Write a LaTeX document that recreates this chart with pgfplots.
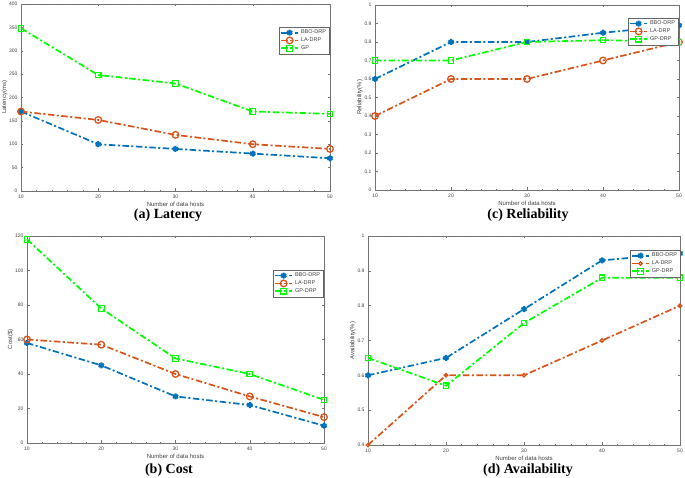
\documentclass[border=0pt]{standalone}
\usepackage{fontspec}
\setmainfont{Liberation Sans}
\newfontfamily\capfont{Liberation Serif}
\usepackage{pgfplots}
\pgfplotsset{compat=1.18}

\definecolor{mblue}{RGB}{0,114,189}
\definecolor{morange}{RGB}{217,83,25}
\definecolor{mgreen}{RGB}{0,255,0}

\pgfplotsset{
  mystyle/.style={
    scale only axis,
    clip=false,
    xmin=10, xmax=50,
    xtick={10,20,30,40,50},
    minor x tick num=4,
    tick align=inside,
    major tick length=2.5pt,
    minor tick length=1.2pt,
    axis line style={draw=black!55, line width=0.5pt},
    every tick/.style={black!55, line width=0.4pt},
    ticklabel style={font=\fontsize{5}{6}\selectfont, text=black!75},
    /pgf/number format/assume math mode=true,
    label style={font=\fontsize{6}{7}\selectfont, text=black!75},
    xlabel={Number of data hosts},
    xlabel style={yshift=3pt},
    ylabel style={yshift=-5pt},
    legend style={font=\fontsize{5.5}{6.5}\selectfont, draw=black!60, line width=0.4pt, inner sep=0.8pt, row sep=-1.5pt, text=black!75},
    legend cell align=left,
    every axis plot/.append style={line width=1.7pt, dash pattern=on 6.5pt off 2.5pt on 2pt off 2.5pt},
  },
  bbo/.style={mblue, mark=asterisk, mark size=3pt, mark options={solid, line width=2pt}},
  la/.style={morange, mark=o, mark size=3.3pt, mark options={solid, line width=1.3pt}},
  gp/.style={mgreen, mark=square, mark size=2.8pt, mark options={solid, line width=1.1pt}},
}

\begin{document}
\begin{tikzpicture}
\path[use as bounding box] (0,0) rectangle (685pt,478pt);

% (a) Latency
\begin{axis}[mystyle, at={(21pt,287pt)}, anchor=south west, width=309pt, height=187pt,
  ymin=0, ymax=400, ytick={0,50,100,150,200,250,300,350,400},
  ylabel={Latency(ms)},
  legend style={at={(0.997,0.877)}, anchor=north east}]
\addplot[bbo] coordinates {(10,170) (20,100) (30,90) (40,80) (50,70)};
\addplot[la] coordinates {(10,170) (20,152) (30,120) (40,100) (50,90)};
\addplot[gp] coordinates {(10,348) (20,248) (30,230) (40,170) (50,165)};
\legend{BBO-DRP, LA-DRP, GP}
\end{axis}

% (c) Reliability
\begin{axis}[mystyle, at={(375pt,288pt)}, anchor=south west, width=304pt, height=185pt,
  ymin=0, ymax=1, ytick={0,0.1,0.2,0.3,0.4,0.5,0.6,0.7,0.8,0.9,1},
  ylabel={Reliability(\%)},
  legend style={at={(0.997,0.93)}, anchor=north east}]
\addplot[bbo] coordinates {(10,0.6) (20,0.8) (30,0.8) (40,0.85) (50,0.89)};
\addplot[la] coordinates {(10,0.4) (20,0.6) (30,0.6) (40,0.7) (50,0.8)};
\addplot[gp] coordinates {(10,0.7) (20,0.7) (30,0.8) (40,0.81) (50,0.8)};
\legend{BBO-DRP, LA-DRP, GP-DRP}
\end{axis}

% (b) Cost
\begin{axis}[mystyle, at={(27pt,35pt)}, anchor=south west, width=297pt, height=207pt,
  ymin=0, ymax=120, ytick={0,20,40,60,80,100,120},
  ylabel={Cost(\$)},
  legend style={at={(0.997,0.836)}, anchor=north east}]
\addplot[bbo] coordinates {(10,58) (20,45) (30,27) (40,22) (50,10)};
\addplot[la] coordinates {(10,60) (20,57) (30,40) (40,27) (50,15)};
\addplot[gp] coordinates {(10,118) (20,78) (30,49) (40,40) (50,25)};
\legend{BBO-DRP, LA-DRP, GP-DRP}
\end{axis}

% (d) Availability
\begin{axis}[mystyle, at={(368pt,33pt)}, anchor=south west, width=312pt, height=209pt,
  ymin=0.4, ymax=1, ytick={0.4,0.5,0.6,0.7,0.8,0.9,1},
  ylabel={Availability(\%)},
  legend style={at={(1.0,0.933)}, anchor=north east}]
\addplot[bbo] coordinates {(10,0.6) (20,0.65) (30,0.79) (40,0.93) (50,0.95)};
\addplot[la, mark size=1.7pt] coordinates {(10,0.4) (20,0.6) (30,0.6) (40,0.7) (50,0.8)};
\addplot[gp] coordinates {(10,0.65) (20,0.57) (30,0.75) (40,0.88) (50,0.88)};
\legend{BBO-DRP, LA-DRP, GP-DRP}
\end{axis}

\node[font=\capfont\bfseries\fontsize{14}{16}\selectfont] at (168pt,263pt) {(a) Latency};
\node[font=\capfont\bfseries\fontsize{14}{16}\selectfont] at (528pt,263pt) {(c) Reliability};
\node[font=\capfont\bfseries\fontsize{14}{16}\selectfont] at (169pt,8pt) {(b) Cost};
\node[font=\capfont\bfseries\fontsize{14}{16}\selectfont] at (528pt,8pt) {(d) Availability};
\end{tikzpicture}
\end{document}
